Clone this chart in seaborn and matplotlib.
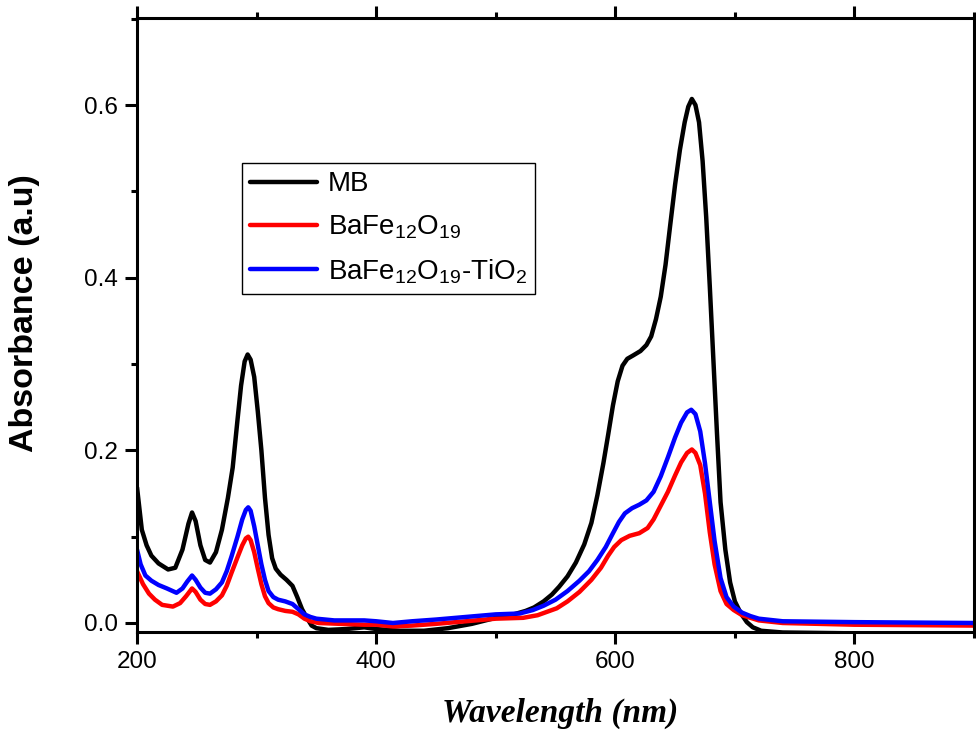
import numpy as np
import pandas as pd
import matplotlib
matplotlib.use("Agg")
import matplotlib.pyplot as plt
from matplotlib.ticker import MultipleLocator, FormatStrFormatter
import seaborn as sns


# -------------------------------------------------
# Spectra
# -------------------------------------------------
wl_mb = [200, 204, 208, 212, 218, 226, 232, 238, 243, 246, 249, 253, 257, 261,
         266, 271, 276, 280, 284, 287, 290, 292.5, 295, 298, 301, 304, 307, 310,
         313, 316, 320, 325, 330, 334, 338, 342, 346, 350, 360, 375, 390, 400,
         420, 440, 460, 480, 500, 515, 525, 532, 540, 547, 553, 560, 567, 574,
         580, 585, 590, 594, 598, 602, 606, 610, 615, 621, 626, 630, 634, 638,
         642, 646, 650, 654, 658, 661, 664, 667, 670, 673, 676, 679, 682, 685,
         688, 692, 696, 700, 705, 710, 715, 722, 740, 800, 900]
abs_mb = [0.157, 0.108, 0.090, 0.078, 0.069, 0.062, 0.064, 0.085, 0.115, 0.128,
          0.118, 0.090, 0.073, 0.070, 0.082, 0.108, 0.145, 0.180, 0.235, 0.275,
          0.303, 0.311, 0.305, 0.285, 0.245, 0.200, 0.145, 0.102, 0.075, 0.063,
          0.056, 0.050, 0.043, 0.030, 0.016, 0.006, -0.003, -0.006, -0.008,
          -0.007, -0.005, -0.007, -0.009, -0.009, -0.006, -0.001, 0.006, 0.010,
          0.014, 0.018, 0.025, 0.033, 0.042, 0.054, 0.070, 0.091, 0.116, 0.148,
          0.185, 0.218, 0.252, 0.280, 0.298, 0.306, 0.310, 0.315, 0.322, 0.332,
          0.352, 0.378, 0.415, 0.462, 0.508, 0.548, 0.580, 0.598, 0.607, 0.600,
          0.580, 0.535, 0.470, 0.390, 0.305, 0.220, 0.140, 0.085, 0.047, 0.025,
          0.011, 0.001, -0.005, -0.009, -0.011, -0.012, -0.012]

wl_ba = [200, 205, 210, 215, 221, 230, 236, 241, 246, 249, 253, 257, 261, 266,
         271, 275, 279, 284, 288, 291, 293, 295, 298, 301, 304, 307, 310, 314,
         318, 324, 330, 335, 340, 345, 352, 370, 390, 400, 414, 430, 450, 475,
         500, 523, 535, 545, 551, 560, 570, 580, 588, 594, 599, 605, 612, 620,
         627, 632, 638, 644, 650, 655, 660, 664, 667, 671, 675, 679, 683, 688,
         693, 699, 706, 713, 720, 740, 800, 900]
abs_ba = [0.060, 0.045, 0.034, 0.027, 0.021, 0.019, 0.023, 0.031, 0.040, 0.036,
          0.027, 0.022, 0.021, 0.025, 0.032, 0.043, 0.058, 0.076, 0.090, 0.098,
          0.100, 0.096, 0.082, 0.063, 0.045, 0.031, 0.023, 0.018, 0.016, 0.014,
          0.013, 0.010, 0.005, 0.002, 0.000, -0.001, -0.002, -0.002, -0.004,
          -0.003, -0.001, 0.002, 0.005, 0.006, 0.009, 0.014, 0.017, 0.025, 0.036,
          0.050, 0.064, 0.078, 0.088, 0.096, 0.101, 0.104, 0.110, 0.120, 0.136,
          0.152, 0.171, 0.186, 0.197, 0.201, 0.197, 0.183, 0.150, 0.105, 0.068,
          0.037, 0.022, 0.015, 0.009, 0.006, 0.003, 0.000, -0.002, -0.003]

wl_ti = [200, 203, 207, 212, 218, 225, 233, 238, 242, 246, 249, 253, 257, 261,
         266, 271, 275, 279, 284, 288, 291, 293, 295, 298, 301, 304, 307, 310,
         314, 318, 324, 330, 335, 340, 345, 350, 365, 390, 400, 414, 430, 450,
         475, 500, 520, 531, 540, 550, 560, 570, 578, 585, 592, 598, 603, 608,
         614, 620, 626, 632, 638, 644, 650, 655, 660, 663.5, 667, 671, 675, 679,
         683, 688, 693, 699, 706, 713, 720, 740, 800, 900]
abs_ti = [0.085, 0.068, 0.055, 0.049, 0.044, 0.040, 0.035, 0.040, 0.048, 0.055,
          0.050, 0.041, 0.035, 0.034, 0.039, 0.047, 0.060, 0.077, 0.100, 0.120,
          0.131, 0.134, 0.130, 0.112, 0.090, 0.068, 0.050, 0.037, 0.030, 0.027,
          0.025, 0.022, 0.016, 0.010, 0.007, 0.005, 0.003, 0.003, 0.002, 0.000,
          0.002, 0.004, 0.007, 0.010, 0.011, 0.015, 0.020, 0.027, 0.037, 0.049,
          0.060, 0.073, 0.088, 0.104, 0.117, 0.127, 0.133, 0.137, 0.142, 0.152,
          0.170, 0.192, 0.215, 0.232, 0.244, 0.247, 0.242, 0.222, 0.185, 0.140,
          0.095, 0.052, 0.030, 0.019, 0.012, 0.008, 0.005, 0.002, 0.001, 0.000]

labels = ["MB", "BaFe$_{12}$O$_{19}$", "BaFe$_{12}$O$_{19}$-TiO$_{2}$"]
colors = ["#000000", "#FF0000", "#0000FF"]


# -------------------------------------------------
# Style
# -------------------------------------------------
sns.set_style("ticks")
plt.rcParams["font.family"] = ["Liberation Sans", "DejaVu Sans"]
plt.rcParams["mathtext.default"] = "regular"
plt.rcParams["text.color"] = "black"
plt.rcParams["axes.labelcolor"] = "black"

fig = plt.figure(figsize=(9.76, 7.34), dpi=100)
ax = fig.add_axes([0.1404, 0.139, 0.8576, 0.8365])

series = [(wl_mb, abs_mb), (wl_ba, abs_ba), (wl_ti, abs_ti)]
for (wl, ab), lab, col in zip(series, labels, colors):
    df = pd.DataFrame({"wavelength": wl, "absorbance": ab})
    sns.lineplot(data=df, x="wavelength", y="absorbance", color=col,
                 linewidth=3.2, label=lab, ax=ax)

ax.set_xlim(200, 900)
ax.set_ylim(-0.0104, 0.7008)

ax.xaxis.set_major_locator(MultipleLocator(200))
ax.xaxis.set_minor_locator(MultipleLocator(100))
ax.yaxis.set_major_locator(MultipleLocator(0.2))
ax.yaxis.set_minor_locator(MultipleLocator(0.1))
ax.yaxis.set_major_formatter(FormatStrFormatter("%.1f"))

for sp in ax.spines.values():
    sp.set_visible(True)
    sp.set_linewidth(2.2)
    sp.set_color("black")

ax.tick_params(which="both", direction="out", top=True, right=True,
               width=2.2, color="black", labelsize=17.5, labelcolor="black")
ax.tick_params(which="major", length=8.6, pad=5)
ax.tick_params(which="minor", length=4.3)

ax.set_xlabel("Wavelength (nm)", fontsize=24, fontweight="bold",
              fontstyle="italic", family="Liberation Serif")
ax.set_ylabel("Absorbance (a.u)", fontsize=24.5, fontweight="bold")
ax.xaxis.set_label_coords(0.505, -0.1075)
ax.yaxis.set_label_coords(-0.116, 0.52)

leg = ax.legend(loc="upper left", bbox_to_anchor=(0.1255, 0.7638),
                borderaxespad=0, fontsize=20, handlelength=2.4,
                handletextpad=0.38, borderpad=0.3, labelspacing=0.58,
                fancybox=False, framealpha=1, edgecolor="black")
leg.get_frame().set_linewidth(1.0)
for txt in leg.get_texts():
    txt.set_color("black")

fig.savefig("out.png", dpi=100)
plt.close(fig)
